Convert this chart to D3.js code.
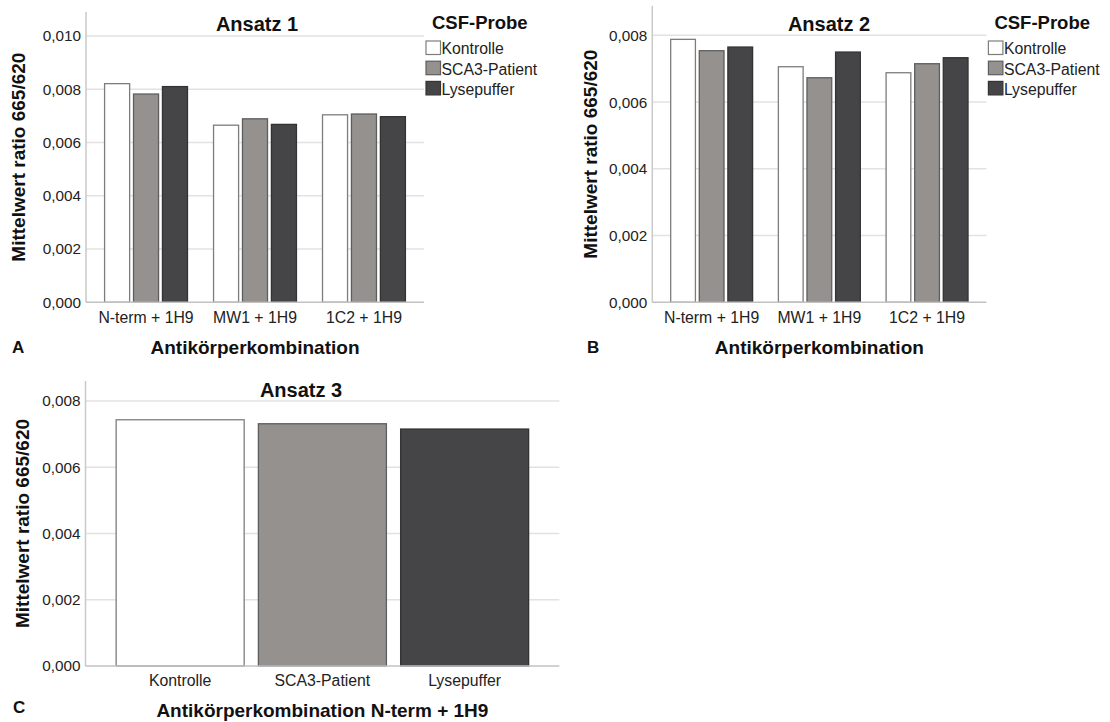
<!DOCTYPE html>
<html>
<head>
<meta charset="utf-8">
<script src="https://cdn.jsdelivr.net/npm/d3@7"></script>
<style>
  html, body { margin: 0; padding: 0; background: #ffffff; }
  svg { display: block; font-family: "Liberation Sans", Arial, Helvetica, sans-serif; }
</style>
</head>
<body>
<svg id="chart" width="1110" height="722"></svg>
<script>
// Antibody combinations and CSF sample types
const combinations = ["N-term + 1H9", "MW1 + 1H9", "1C2 + 1H9"];
const probes = ["Kontrolle", "SCA3-Patient", "Lysepuffer"];

// Ansatz 1: mean ratio 665/620 per combination
const ansatz1Kontrolle = [0.00821, 0.00665, 0.00704];
const ansatz1SCA3 = [0.00782, 0.00689, 0.00707];
const ansatz1Lyse = [0.00810, 0.00668, 0.00697];

// Ansatz 2
const ansatz2Kontrolle = [0.00788, 0.00706, 0.00688];
const ansatz2SCA3 = [0.00754, 0.00673, 0.00715];
const ansatz2Lyse = [0.00765, 0.00750, 0.00733];

// Ansatz 3: N-term + 1H9 only, one bar per sample type
const ansatz3Values = [0.00743, 0.00731, 0.00715];

// Tick values
const ticksAnsatz1 = [0, 0.002, 0.004, 0.006, 0.008, 0.010];
const ticksAnsatz23 = [0, 0.002, 0.004, 0.006, 0.008];

const fills = ["#ffffff", "#95918f", "#454547"];
const strokes = ["#7d7d7d", "#5e5e5e", "#333335"];
const fmt = v => d3.format(".3f")(v).replace(".", ",");

const svg = d3.select("#chart");

function drawFrame(g, p, x0, x1, y, ticks) {
  // horizontal gridlines
  g.append("g").selectAll("line").data(ticks.filter(t => t > 0)).join("line")
    .attr("x1", x0).attr("x2", x1)
    .attr("y1", d => y(d)).attr("y2", d => y(d))
    .attr("stroke", "#e2e2e2").attr("stroke-width", 1.5);

  // y axis
  const ax = g.append("g").attr("transform", `translate(${x0},0)`)
    .call(d3.axisLeft(y).tickValues(ticks).tickFormat(fmt).tickSize(0).tickPadding(5));
  ax.select(".domain").remove();
  ax.selectAll("text").attr("font-size", 15.3).attr("fill", "#222")
    .attr("font-family", "Liberation Sans, Arial, sans-serif");
  g.append("line").attr("x1", x0).attr("x2", x0)
    .attr("y1", p.top).attr("y2", p.bottom)
    .attr("stroke", "#c9c9c9").attr("stroke-width", 1.5);
}

function drawBottomLine(g, x0, x1, yb) {
  g.append("line").attr("x1", x0).attr("x2", x1).attr("y1", yb).attr("y2", yb)
    .attr("stroke", "#c2c2c2").attr("stroke-width", 1.5);
}

function groupedPanel(p) {
  const g = svg.append("g");
  const y = d3.scaleLinear().domain([0, p.yMax]).range([p.bottom, p.top]);
  const x = d3.scaleBand().domain(combinations).range([p.left, p.right])
    .paddingInner(0.23).paddingOuter(0.166);
  const xs = d3.scaleBand().domain(probes).range([0, x.bandwidth()]).paddingInner(0.1).paddingOuter(0);

  drawFrame(g, p, p.left, p.right, y, p.ticks);

  const rows = combinations.map((c, i) => ({ c, vals: p.series.map(s => s[i]) }));
  g.append("g").selectAll("g").data(rows).join("g")
    .attr("transform", d => `translate(${x(d.c)},0)`)
    .selectAll("rect").data(d => d.vals.map((v, k) => ({ v, k })))
    .join("rect")
    .attr("x", d => xs(probes[d.k]) + 0.5)
    .attr("y", d => y(d.v))
    .attr("width", xs.bandwidth() - 1)
    .attr("height", d => y(0) - y(d.v))
    .attr("fill", d => fills[d.k])
    .attr("stroke", d => strokes[d.k]).attr("stroke-width", 1.3);

  drawBottomLine(g, p.left, p.right, p.bottom);

  // category labels
  g.append("g").selectAll("text").data(combinations).join("text")
    .attr("x", d => x(d) + x.bandwidth() / 2).attr("y", p.bottom + 20.5)
    .attr("text-anchor", "middle").attr("font-size", 15.8).attr("fill", "#222")
    .text(d => d);

  // titles
  g.append("text").attr("x", p.titleX).attr("y", 31)
    .attr("text-anchor", "middle").attr("font-size", 20).attr("font-weight", "bold")
    .attr("fill", "#111").text(p.title);
  g.append("text").attr("x", (p.left + p.right) / 2).attr("y", p.bottom + 52)
    .attr("text-anchor", "middle").attr("font-size", 19).attr("font-weight", "bold")
    .attr("fill", "#111").text("Antikörperkombination");
  g.append("text")
    .attr("transform", `translate(${p.yTitleX},${(p.top + p.bottom) / 2}) rotate(-90)`)
    .attr("text-anchor", "middle").attr("font-size", 19).attr("font-weight", "bold")
    .attr("fill", "#111").text("Mittelwert ratio 665/620");
  g.append("text").attr("x", p.letterX).attr("y", p.bottom + 51)
    .attr("font-size", 17).attr("font-weight", "bold").attr("fill", "#111").text(p.letter);

  // legend
  const lg = g.append("g").attr("transform", `translate(${p.right + 1.5},0)`);
  lg.append("text").attr("x", 6.5).attr("y", 28.5)
    .attr("font-size", 18.5).attr("font-weight", "bold").attr("fill", "#111").text("CSF-Probe");
  const items = lg.selectAll("g.item").data(probes).join("g").attr("class", "item")
    .attr("transform", (d, i) => `translate(0,${41 + i * 20.2})`);
  items.append("rect").attr("x", 0.5).attr("y", 0).attr("width", 14.5).attr("height", 13.5)
    .attr("fill", (d, i) => fills[i]).attr("stroke", (d, i) => strokes[i]).attr("stroke-width", 1.2);
  items.append("text").attr("x", 16).attr("y", 13.3)
    .attr("font-size", 15.8).attr("fill", "#222").text(d => d);
}

groupedPanel({
  left: 86, right: 424, top: 12, bottom: 302.3, yMax: 0.0109, ticks: ticksAnsatz1,
  series: [ansatz1Kontrolle, ansatz1SCA3, ansatz1Lyse],
  title: "Ansatz 1", titleX: 257, yTitleX: 25, letter: "A", letterX: 12
});

groupedPanel({
  left: 652.3, right: 986.4, top: 6, bottom: 302.3, yMax: 0.00888, ticks: ticksAnsatz23,
  series: [ansatz2Kontrolle, ansatz2SCA3, ansatz2Lyse],
  title: "Ansatz 2", titleX: 829, yTitleX: 597, letter: "B", letterX: 587
});

// Ansatz 3: single series, sample type on the x axis
(function () {
  const p = { left: 85.5, right: 559.3, top: 381, bottom: 666, yMax: 0.0086 };
  const g = svg.append("g");
  const y = d3.scaleLinear().domain([0, p.yMax]).range([p.bottom, p.top]);
  const x = d3.scaleBand().domain(probes).range([p.left, p.right])
    .paddingInner(0.093).paddingOuter(0.212);

  drawFrame(g, p, p.left, p.right, y, ticksAnsatz23);

  g.append("g").selectAll("rect").data(ansatz3Values).join("rect")
    .attr("x", (d, i) => x(probes[i]) + 0.5)
    .attr("y", d => y(d))
    .attr("width", x.bandwidth() - 1)
    .attr("height", d => y(0) - y(d))
    .attr("fill", (d, i) => fills[i])
    .attr("stroke", (d, i) => strokes[i]).attr("stroke-width", 1.3);

  drawBottomLine(g, p.left, p.right, p.bottom);

  g.append("g").selectAll("text").data(probes).join("text")
    .attr("x", d => x(d) + x.bandwidth() / 2).attr("y", p.bottom + 20)
    .attr("text-anchor", "middle").attr("font-size", 15.8).attr("fill", "#222")
    .text(d => d);

  g.append("text").attr("x", 301).attr("y", 397)
    .attr("text-anchor", "middle").attr("font-size", 20).attr("font-weight", "bold")
    .attr("fill", "#111").text("Ansatz 3");
  g.append("text").attr("x", (p.left + p.right) / 2).attr("y", p.bottom + 51)
    .attr("text-anchor", "middle").attr("font-size", 19).attr("font-weight", "bold")
    .attr("fill", "#111").text("Antikörperkombination N-term + 1H9");
  g.append("text")
    .attr("transform", `translate(29,${(p.top + p.bottom) / 2}) rotate(-90)`)
    .attr("text-anchor", "middle").attr("font-size", 19).attr("font-weight", "bold")
    .attr("fill", "#111").text("Mittelwert ratio 665/620");
  g.append("text").attr("x", 13).attr("y", p.bottom + 47)
    .attr("font-size", 17).attr("font-weight", "bold").attr("fill", "#111").text("C");
})();
</script>
</body>
</html>
